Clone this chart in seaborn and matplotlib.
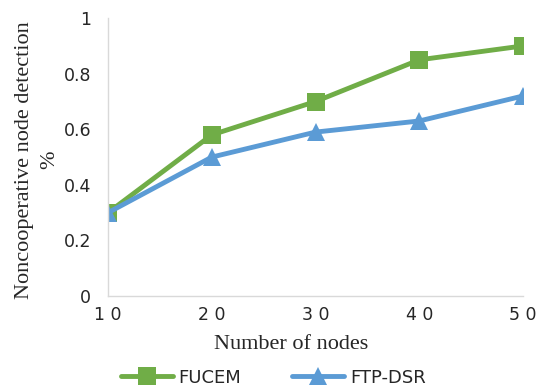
import matplotlib
matplotlib.use("Agg")
import matplotlib.pyplot as plt
import seaborn as sns
import pandas as pd

nodes = [10, 20, 30, 40, 50]
fucem = [0.30, 0.58, 0.70, 0.85, 0.90]
ftp_dsr = [0.30, 0.50, 0.59, 0.63, 0.72]

df = pd.DataFrame({
    "nodes": nodes * 2,
    "value": fucem + ftp_dsr,
    "series": ["FUCEM"] * len(nodes) + ["FTP-DSR"] * len(nodes),
})

sns.set_style("white")
fig = plt.figure(figsize=(5.39, 3.86), dpi=100)
ax = fig.add_axes([0.2004, 0.233, 0.770, 0.720])

sns.lineplot(data=df, x="nodes", y="value", hue="series", style="series",
             palette={"FUCEM": "#70AD47", "FTP-DSR": "#5B9BD5"},
             markers={"FUCEM": "s", "FTP-DSR": "^"}, dashes=False,
             linewidth=3.5, markersize=12.5, markeredgewidth=0, ax=ax, legend=True)

ax.set_xlim(10, 50)
ax.set_ylim(0, 1)
ax.set_xticks(nodes)
ax.set_xticklabels(["1 0", "2 0", "3 0", "4 0", "5 0"], fontsize=12.5)
ax.set_yticks([0, 0.2, 0.4, 0.6, 0.8, 1.0])
ax.set_yticklabels(["0", "0.2", "0.4", "0.6", "0.8", "1"], fontsize=12.5)
for sp in ["top", "right"]:
    ax.spines[sp].set_visible(False)
for sp in ["left", "bottom"]:
    ax.spines[sp].set_color("#D9D9D9")
    ax.spines[sp].set_linewidth(1)
ax.tick_params(axis="both", length=0)
ax.tick_params(axis="y", pad=12)
ax.tick_params(axis="x", pad=7)

ax.set_xlabel("Number of nodes", family="Liberation Serif", fontsize=16)
ax.xaxis.set_label_coords(0.44, -0.14)
ax.set_ylabel("Noncooperative node detection\n%", family="Liberation Serif",
              fontsize=16, linespacing=1.4)
ax.yaxis.set_label_coords(-0.118, 0.49)

handles, labels = ax.get_legend_handles_labels()
ax.get_legend().remove()
fig.legend(handles, labels, loc="center", bbox_to_anchor=(0.507, 0.022),
           ncol=2, frameon=False, fontsize=13, handlelength=2.9,
           columnspacing=2.8, handletextpad=0.3, borderaxespad=0)

fig.savefig("out.png", dpi=100)
